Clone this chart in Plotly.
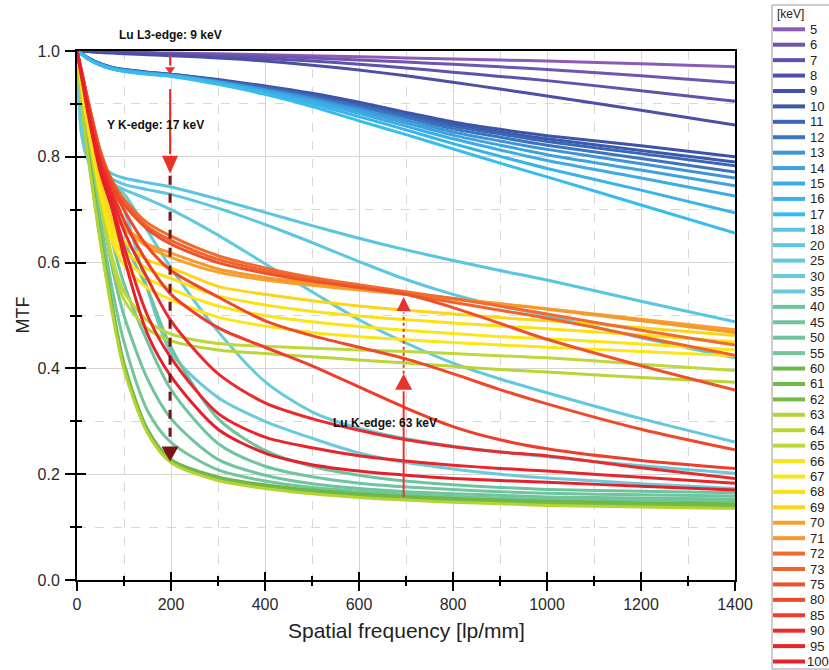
import plotly.graph_objects as go

# Spatial frequency sampling [lp/mm]
freq = [0, 10, 25, 50, 75, 100, 150, 200, 300, 400, 500, 600, 700, 800, 900, 1000, 1200, 1400]

# X-ray energies [keV]
energies_kev = [5, 6, 7, 8, 9, 10, 11, 12, 13, 14, 15, 16, 17, 18, 20, 25, 30, 35, 40, 45, 50, 55,
                60, 61, 62, 63, 64, 65, 66, 67, 68, 69, 70, 71, 72, 73, 75, 80, 85, 90, 95, 100]

# MTF per energy
mtf_5 = [1.000, 1.000, 0.999, 0.999, 0.998, 0.998, 0.997, 0.996, 0.995, 0.993, 0.991, 0.989, 0.987, 0.985, 0.983, 0.981, 0.976, 0.970]
mtf_6 = [1.000, 1.000, 0.999, 0.998, 0.998, 0.997, 0.996, 0.995, 0.993, 0.990, 0.987, 0.983, 0.979, 0.975, 0.970, 0.965, 0.953, 0.940]
mtf_7 = [1.000, 1.000, 0.999, 0.998, 0.997, 0.996, 0.995, 0.994, 0.990, 0.986, 0.981, 0.975, 0.968, 0.960, 0.952, 0.944, 0.925, 0.905]
mtf_8 = [1.000, 1.000, 0.999, 0.997, 0.996, 0.995, 0.993, 0.991, 0.987, 0.981, 0.973, 0.964, 0.953, 0.941, 0.928, 0.915, 0.888, 0.860]
mtf_9 = [1.000, 0.995, 0.986, 0.976, 0.969, 0.965, 0.960, 0.956, 0.946, 0.934, 0.920, 0.903, 0.884, 0.866, 0.852, 0.840, 0.821, 0.800]
mtf_10 = [1.000, 0.995, 0.986, 0.976, 0.969, 0.965, 0.960, 0.956, 0.945, 0.932, 0.917, 0.900, 0.881, 0.862, 0.847, 0.834, 0.812, 0.790]
mtf_11 = [1.000, 0.995, 0.986, 0.975, 0.968, 0.964, 0.959, 0.955, 0.944, 0.931, 0.915, 0.897, 0.878, 0.858, 0.843, 0.829, 0.806, 0.783]
mtf_12 = [1.000, 0.995, 0.985, 0.975, 0.968, 0.964, 0.959, 0.955, 0.943, 0.929, 0.913, 0.894, 0.874, 0.853, 0.837, 0.822, 0.797, 0.771]
mtf_13 = [1.000, 0.995, 0.985, 0.975, 0.968, 0.963, 0.958, 0.954, 0.942, 0.927, 0.910, 0.890, 0.869, 0.847, 0.830, 0.814, 0.787, 0.760]
mtf_14 = [1.000, 0.994, 0.985, 0.974, 0.967, 0.963, 0.958, 0.954, 0.941, 0.925, 0.907, 0.886, 0.864, 0.841, 0.822, 0.804, 0.775, 0.745]
mtf_15 = [1.000, 0.994, 0.984, 0.974, 0.967, 0.962, 0.957, 0.953, 0.940, 0.923, 0.904, 0.882, 0.858, 0.834, 0.813, 0.793, 0.760, 0.726]
mtf_16 = [1.000, 0.994, 0.984, 0.973, 0.966, 0.962, 0.957, 0.953, 0.939, 0.921, 0.900, 0.876, 0.851, 0.825, 0.801, 0.778, 0.737, 0.694]
mtf_17 = [1.000, 0.994, 0.984, 0.973, 0.966, 0.961, 0.956, 0.952, 0.937, 0.918, 0.895, 0.868, 0.842, 0.815, 0.788, 0.762, 0.709, 0.656]
mtf_18 = [1.000, 0.860, 0.815, 0.785, 0.768, 0.760, 0.751, 0.743, 0.720, 0.695, 0.670, 0.646, 0.624, 0.604, 0.585, 0.567, 0.527, 0.488]
mtf_20 = [1.000, 0.855, 0.808, 0.776, 0.758, 0.748, 0.738, 0.729, 0.703, 0.672, 0.638, 0.602, 0.568, 0.540, 0.518, 0.500, 0.458, 0.420]
mtf_25 = [1.000, 0.850, 0.800, 0.768, 0.750, 0.738, 0.720, 0.700, 0.652, 0.598, 0.545, 0.492, 0.448, 0.410, 0.380, 0.354, 0.305, 0.261]
mtf_30 = [1.000, 0.845, 0.795, 0.763, 0.748, 0.730, 0.660, 0.590, 0.470, 0.375, 0.318, 0.287, 0.267, 0.253, 0.242, 0.233, 0.216, 0.202]
mtf_35 = [1.000, 0.840, 0.790, 0.758, 0.738, 0.700, 0.550, 0.430, 0.345, 0.300, 0.268, 0.240, 0.222, 0.210, 0.200, 0.193, 0.182, 0.173]
mtf_40 = [1.000, 0.950, 0.880, 0.780, 0.700, 0.640, 0.550, 0.440, 0.305, 0.245, 0.215, 0.198, 0.187, 0.180, 0.175, 0.171, 0.168, 0.165]
mtf_45 = [1.000, 0.940, 0.860, 0.740, 0.640, 0.560, 0.450, 0.360, 0.258, 0.215, 0.195, 0.183, 0.176, 0.171, 0.167, 0.164, 0.161, 0.159]
mtf_50 = [1.000, 0.930, 0.840, 0.710, 0.590, 0.500, 0.380, 0.305, 0.228, 0.198, 0.182, 0.173, 0.167, 0.163, 0.160, 0.157, 0.155, 0.153]
mtf_55 = [1.000, 0.920, 0.820, 0.680, 0.550, 0.450, 0.320, 0.260, 0.208, 0.187, 0.175, 0.168, 0.162, 0.158, 0.155, 0.153, 0.151, 0.149]
mtf_60 = [1.000, 0.910, 0.800, 0.650, 0.520, 0.410, 0.285, 0.228, 0.195, 0.180, 0.170, 0.163, 0.158, 0.154, 0.151, 0.149, 0.146, 0.144]
mtf_61 = [1.000, 0.910, 0.800, 0.645, 0.515, 0.405, 0.282, 0.226, 0.193, 0.178, 0.168, 0.161, 0.156, 0.152, 0.149, 0.147, 0.144, 0.142]
mtf_62 = [1.000, 0.905, 0.795, 0.640, 0.510, 0.402, 0.280, 0.224, 0.191, 0.176, 0.166, 0.159, 0.154, 0.150, 0.147, 0.145, 0.142, 0.140]
mtf_63 = [1.000, 0.900, 0.790, 0.638, 0.505, 0.398, 0.278, 0.222, 0.188, 0.173, 0.163, 0.156, 0.151, 0.147, 0.144, 0.141, 0.138, 0.135]
mtf_64 = [1.000, 0.930, 0.840, 0.710, 0.600, 0.530, 0.475, 0.452, 0.435, 0.428, 0.422, 0.416, 0.410, 0.404, 0.398, 0.393, 0.383, 0.374]
mtf_65 = [1.000, 0.930, 0.850, 0.720, 0.610, 0.545, 0.490, 0.465, 0.447, 0.442, 0.438, 0.435, 0.432, 0.428, 0.424, 0.420, 0.408, 0.396]
mtf_66 = [1.000, 0.930, 0.850, 0.730, 0.640, 0.595, 0.552, 0.530, 0.497, 0.480, 0.468, 0.460, 0.454, 0.449, 0.444, 0.440, 0.432, 0.424]
mtf_67 = [1.000, 0.940, 0.860, 0.740, 0.655, 0.610, 0.570, 0.550, 0.518, 0.500, 0.488, 0.479, 0.472, 0.466, 0.460, 0.456, 0.446, 0.435]
mtf_68 = [1.000, 0.940, 0.860, 0.750, 0.670, 0.625, 0.588, 0.570, 0.537, 0.520, 0.508, 0.499, 0.492, 0.486, 0.480, 0.475, 0.463, 0.450]
mtf_69 = [1.000, 0.940, 0.870, 0.760, 0.680, 0.640, 0.605, 0.590, 0.555, 0.540, 0.528, 0.518, 0.510, 0.503, 0.496, 0.490, 0.477, 0.462]
mtf_70 = [1.000, 0.950, 0.880, 0.780, 0.705, 0.665, 0.630, 0.610, 0.582, 0.567, 0.557, 0.548, 0.540, 0.531, 0.522, 0.513, 0.493, 0.473]
mtf_71 = [1.000, 0.950, 0.880, 0.780, 0.710, 0.670, 0.635, 0.618, 0.588, 0.572, 0.561, 0.551, 0.542, 0.532, 0.522, 0.512, 0.490, 0.468]
mtf_72 = [1.000, 0.960, 0.900, 0.810, 0.755, 0.720, 0.675, 0.650, 0.613, 0.590, 0.572, 0.558, 0.545, 0.532, 0.518, 0.503, 0.472, 0.444]
mtf_73 = [1.000, 0.960, 0.900, 0.810, 0.752, 0.715, 0.668, 0.642, 0.606, 0.585, 0.568, 0.553, 0.540, 0.525, 0.510, 0.495, 0.460, 0.425]
mtf_75 = [1.000, 0.960, 0.900, 0.805, 0.750, 0.710, 0.663, 0.635, 0.600, 0.580, 0.565, 0.553, 0.540, 0.515, 0.485, 0.455, 0.405, 0.359]
mtf_80 = [1.000, 0.960, 0.895, 0.800, 0.745, 0.700, 0.630, 0.585, 0.535, 0.490, 0.462, 0.440, 0.418, 0.390, 0.360, 0.333, 0.285, 0.246]
mtf_85 = [1.000, 0.960, 0.890, 0.795, 0.735, 0.680, 0.600, 0.540, 0.477, 0.440, 0.405, 0.365, 0.325, 0.290, 0.265, 0.248, 0.226, 0.211]
mtf_90 = [1.000, 0.955, 0.885, 0.790, 0.725, 0.660, 0.570, 0.490, 0.390, 0.335, 0.305, 0.283, 0.265, 0.252, 0.242, 0.235, 0.212, 0.192]
mtf_95 = [1.000, 0.955, 0.880, 0.780, 0.710, 0.630, 0.500, 0.420, 0.315, 0.270, 0.250, 0.235, 0.225, 0.217, 0.211, 0.206, 0.194, 0.183]
mtf_100 = [1.000, 0.950, 0.875, 0.770, 0.700, 0.610, 0.465, 0.385, 0.285, 0.240, 0.218, 0.206, 0.198, 0.192, 0.188, 0.185, 0.177, 0.170]

curves = [mtf_5, mtf_6, mtf_7, mtf_8, mtf_9, mtf_10, mtf_11, mtf_12, mtf_13, mtf_14, mtf_15, mtf_16, mtf_17,
          mtf_18, mtf_20, mtf_25, mtf_30, mtf_35, mtf_40, mtf_45, mtf_50, mtf_55,
          mtf_60, mtf_61, mtf_62, mtf_63, mtf_64, mtf_65, mtf_66, mtf_67, mtf_68, mtf_69, mtf_70, mtf_71,
          mtf_72, mtf_73, mtf_75, mtf_80, mtf_85, mtf_90, mtf_95, mtf_100]

line_colors = ["#8a5cb8", "#6e56b0", "#5f52ab", "#4b4fa5", "#3e53a6", "#3a5aab", "#3b66b5", "#3c74bf",
               "#3d94d6", "#3ea2de", "#3cace4", "#3ab4e8", "#36bdee",
               "#5ac5e0", "#5ec7e0", "#62c8de", "#66c9dc", "#6bcad9",
               "#6cc49e", "#6ec5a0", "#6fc49d", "#73c59a",
               "#6bb84b", "#6db949", "#72bb47", "#b5d334", "#bad536", "#bed739",
               "#fbe516", "#fce514", "#fce014", "#fbd516", "#f7a12b", "#f6982d",
               "#f26b2e", "#f0632e", "#ec532a", "#ee4a2a", "#ef3d2b", "#ea2b2c", "#e8262a", "#e4202a"]

# Absorption-edge markers: (frequency, arrow start, arrow tip)
l3_edge = dict(text="Lu L3-edge: 9 keV", freq=198, y0=0.993, tip=0.956)
y_k_edge = dict(text="Y K-edge: 17 keV", freq=198, y0=0.928, tip=0.768, drop_tip=0.224)
lu_k_edge = dict(text="Lu K-edge: 63 keV", freq=695, y0=0.157, tip=0.390, top_tip=0.535)

FONT = "Liberation Sans, Arial, sans-serif"
W, H = 829, 670
L, R, T, B = 77, 94, 51, 90
plot_w, plot_h = W - L - R, H - T - B
X_MAX = 1400
px_per_freq = plot_w / X_MAX
px_per_mtf = plot_h / 1.0

fig = go.Figure()

for e, y, c in zip(energies_kev, curves, line_colors):
    fig.add_trace(go.Scatter(x=freq, y=y, mode="lines", name=str(e),
                             line=dict(color=c, width=3, shape="spline", smoothing=0.8),
                             showlegend=False, hoverinfo="skip"))


def arrow_head(xc, tip, h_px, half_w_px, color, up=False):
    dx = half_w_px / px_per_freq
    dy = h_px / px_per_mtf
    base = tip - dy if up else tip + dy
    fig.add_trace(go.Scatter(x=[xc - dx, xc + dx, xc, xc - dx], y=[base, base, tip, base],
                             mode="lines", fill="toself", fillcolor=color,
                             line=dict(width=0, color=color), showlegend=False, hoverinfo="skip"))
    return base


def shaft(xc, ya, yb, color, width, dash="solid"):
    fig.add_trace(go.Scatter(x=[xc, xc], y=[ya, yb], mode="lines",
                             line=dict(color=color, width=width, dash=dash),
                             showlegend=False, hoverinfo="skip"))


RED = "#e8322a"
DARK_RED = "#7a1517"

# Lu L3-edge arrow
b = arrow_head(l3_edge["freq"], l3_edge["tip"], 7, 5, RED)
shaft(l3_edge["freq"], l3_edge["y0"], b + 0.003, RED, 2)

# Y K-edge arrow and dashed drop
b = arrow_head(y_k_edge["freq"], y_k_edge["tip"], 18, 8, RED)
shaft(y_k_edge["freq"], y_k_edge["y0"], b + 0.003, RED, 2)
b2 = arrow_head(y_k_edge["freq"], y_k_edge["drop_tip"], 15, 8.5, DARK_RED)
shaft(y_k_edge["freq"], y_k_edge["tip"] - 0.004, b2 + 0.003, DARK_RED, 3, dash="dash")

# Lu K-edge arrow (solid) and dotted continuation
b = arrow_head(lu_k_edge["freq"], lu_k_edge["tip"], 16, 8.5, RED, up=True)
shaft(lu_k_edge["freq"], lu_k_edge["y0"], b - 0.003, RED, 2)
b2 = arrow_head(lu_k_edge["freq"], lu_k_edge["top_tip"], 14, 7, RED, up=True)
shaft(lu_k_edge["freq"], lu_k_edge["tip"], b2 - 0.003, RED, 2, dash="dot")

# helper trace that activates the overlaid tick axes
fig.add_trace(go.Scatter(x=[None], y=[None], xaxis="x2", yaxis="y2", showlegend=False, hoverinfo="skip"))


def to_paper(px, py):
    return (px - L) / plot_w, (H - B - py) / plot_h


l3x, l3y = to_paper(170, 35)
annotations = [
    dict(text="<b>" + l3_edge["text"] + "</b>", x=l3x, y=l3y, xref="paper", yref="paper",
         showarrow=False, font=dict(family=FONT, size=12, color="#111"), xanchor="center", yanchor="middle"),
    dict(text="<b>" + y_k_edge["text"] + "</b>", x=(105 - L) / px_per_freq, y=(580 - 125) / px_per_mtf,
         xref="x", yref="y", showarrow=False, font=dict(family=FONT, size=12, color="#111"), xanchor="left"),
    dict(text="<b>" + lu_k_edge["text"] + "</b>", x=(331 - L) / px_per_freq, y=(580 - 423) / px_per_mtf,
         xref="x", yref="y", showarrow=False, font=dict(family=FONT, size=12, color="#111"), xanchor="left"),
    dict(text="Spatial frequency [lp/mm]", x=0.5, y=(580 - 630) / plot_h, xref="paper", yref="paper",
         showarrow=False, font=dict(family=FONT, size=21, color="#222"), xanchor="center", yanchor="middle"),
    dict(text="MTF", x=(22 - L) / plot_w, y=0.5, xref="paper", yref="paper", textangle=-90,
         showarrow=False, font=dict(family=FONT, size=18, color="#222"), xanchor="center", yanchor="middle"),
]

# Legend panel drawn next to the axes
shapes = []
bx0, by0 = to_paper(772, 5)
bx1, by1 = to_paper(840, 669)
shapes.append(dict(type="rect", xref="paper", yref="paper", x0=bx0, y0=by1, x1=bx1, y1=by0,
                   line=dict(color="#9a9a9a", width=1), fillcolor="white", layer="below"))
tx, ty = to_paper(775, 14)
annotations.append(dict(text="[keV]", x=tx, y=ty, xref="paper", yref="paper", showarrow=False,
                        xanchor="left", yanchor="middle", font=dict(family=FONT, size=12, color="#222")))
row0, row_step = 29.3, 15.42
for i, (e, c) in enumerate(zip(energies_kev, line_colors)):
    py = row0 + row_step * i
    x0, yy = to_paper(773, py)
    x1, _ = to_paper(805, py)
    shapes.append(dict(type="line", xref="paper", yref="paper", x0=x0, x1=x1, y0=yy, y1=yy,
                       line=dict(color=c, width=4)))
    lx, _ = to_paper(808 if e < 100 else 805, py)
    annotations.append(dict(text=str(e), x=lx, y=yy, xref="paper", yref="paper", showarrow=False,
                            xanchor="left", yanchor="middle", font=dict(family=FONT, size=13, color="#222")))

axis_common = dict(showline=True, linecolor="black", linewidth=2, zeroline=False)
fig.update_layout(
    width=W, height=H,
    margin=dict(l=L, r=R, t=T, b=B, pad=0),
    paper_bgcolor="white", plot_bgcolor="white",
    showlegend=False,
    xaxis=dict(range=[0, X_MAX], dtick=200, tick0=0, mirror=True, ticks="outside", ticklen=9,
               tickwidth=1.5, tickcolor="black", showgrid=True, gridcolor="#d5d5d5", gridwidth=1,
               tickfont=dict(family=FONT, size=16, color="#2a2a2a"), automargin=False,
               minor=dict(dtick=100, tick0=0, ticks="outside", ticklen=4, tickwidth=1.5, tickcolor="black",
                          showgrid=True, gridcolor="#d8d8d8", griddash="dash", gridwidth=1),
               **axis_common),
    yaxis=dict(range=[0, 1.0], dtick=0.2, tick0=0, mirror=True, ticks="outside", ticklen=10,
               tickwidth=1.5, tickcolor="black", showgrid=True, gridcolor="#d5d5d5", gridwidth=1,
               tickformat=".1f", tickfont=dict(family=FONT, size=16, color="#2a2a2a"), automargin=False,
               ticklabelstandoff=2,
               minor=dict(dtick=0.1, tick0=0, ticks="outside", ticklen=5, tickwidth=1.5, tickcolor="black",
                          showgrid=True, gridcolor="#d8d8d8", griddash="dash", gridwidth=1),
               **axis_common),
    xaxis2=dict(range=[0, X_MAX], overlaying="x", anchor="y", side="bottom", dtick=200, tick0=0,
                ticks="inside", ticklen=8, tickwidth=1.5, tickcolor="black", showticklabels=False,
                showgrid=False, showline=False, zeroline=False,
                minor=dict(dtick=100, tick0=0, ticks="inside", ticklen=4, tickwidth=1.5, tickcolor="black")),
    yaxis2=dict(range=[0, 1.0], overlaying="y", anchor="x", side="left", dtick=0.2, tick0=0,
                ticks="inside", ticklen=9, tickwidth=1.5, tickcolor="black", showticklabels=False,
                showgrid=False, showline=False, zeroline=False,
                minor=dict(dtick=0.1, tick0=0, ticks="inside", ticklen=5, tickwidth=1.5, tickcolor="black")),
    annotations=annotations,
    shapes=shapes,
)

fig.write_html("out.html")
